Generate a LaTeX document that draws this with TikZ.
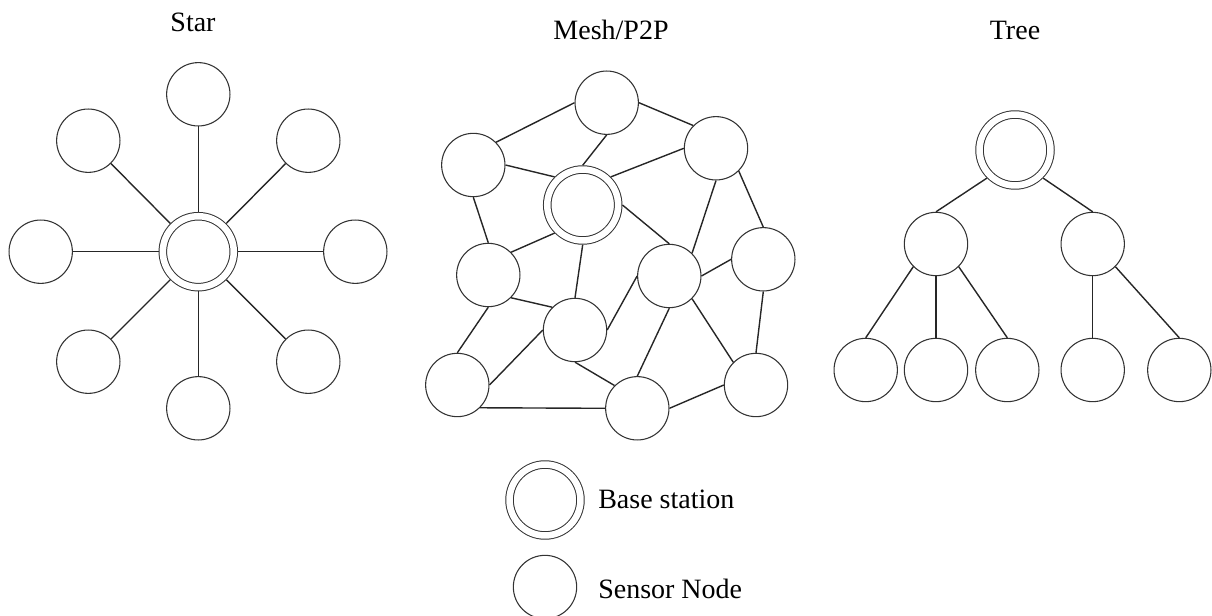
\documentclass[tikz,border=0pt]{standalone}
\usepackage{fontspec}
\setmainfont{Liberation Serif}
\begin{document}
\begin{tikzpicture}[x=0.75pt,y=-0.75pt,
  sensor/.style={circle,draw=black!80,line width=0.8pt,minimum size=47.5pt,inner sep=0pt,fill=white},
  base/.style={circle,draw=black!80,line width=0.75pt,double=white,double distance=4.9pt,minimum size=53.2pt,inner sep=0pt,outer sep=3.2pt},
  link/.style={draw=black!85,line width=1.05pt},
  lbl/.style={inner sep=0pt,font=\fontsize{21}{25}\selectfont}]
\useasboundingbox (0,0) rectangle (1212,616);
% titles
\node[lbl,anchor=base] (tstar) at (193,32) {Star};
\node[lbl,anchor=base] (tmesh) at (611,40) {Mesh/P2P};
\node[lbl,anchor=base] (ttree) at (1015,40) {Tree};
% star
\node[base] (sc) at (198.3,251.7) {};
\node[sensor] (s1) at (198.3,94.3) {};
\node[sensor] (s2) at (88.3,140.7) {};
\node[sensor] (s3) at (308.3,140.7) {};
\node[sensor] (s4) at (40.7,251.7) {};
\node[sensor] (s5) at (355.3,251.7) {};
\node[sensor] (s6) at (88.3,361.7) {};
\node[sensor] (s7) at (308.3,361.7) {};
\node[sensor] (s8) at (198.3,408.3) {};
\foreach \n in {s1,s2,s3,s4,s5,s6,s7,s8} \draw[link] (sc) -- (\n);
% mesh
\node[base] (mb) at (582.7,205) {};
\node[sensor] (mt) at (606.7,102.7) {};
\node[sensor] (mtl) at (473.3,165) {};
\node[sensor] (mtr) at (716,148.3) {};
\node[sensor] (ml) at (488.3,275) {};
\node[sensor] (mcr) at (669.3,276) {};
\node[sensor] (mr) at (763.3,259.3) {};
\node[sensor] (mlc) at (575,330) {};
\node[sensor] (mbl) at (457.3,385) {};
\node[sensor] (mbc) at (637.3,408.3) {};
\node[sensor] (mbr) at (756,385) {};
\draw[link] (mt.180) -- (mtl.45);
\draw[link] (mt.0) -- (mtr.135);
\draw[link] (mt.-90) -- (mb.90);
\draw[link] (mtl.0) -- (mb.135);
\draw[link] (mtl.-90) -- (ml.90);
\draw[link] (mb.45) -- (mtr.180);
\draw[link] (mb.0) -- (mcr.90);
\draw[link] (mb.225) -- (ml.45);
\draw[link] (mb.-90) -- (mlc.90);
\draw[link] (mtr.-90) -- (mcr.45);
\draw[link] (mtr.-45) -- (mr.90);
\draw[link] (ml.-45) -- (mlc.135);
\draw[link] (ml.-90) -- (mbl.90);
\draw[link] (mlc.180) -- (mbl.0);
\draw[link] (mlc.0) -- (mcr.180);
\draw[link] (mlc.-90) -- (mbc.135);
\draw[link] (mcr.0) -- (mr.180);
\draw[link] (mcr.-90) -- (mbc.90);
\draw[link] (mcr.-45) -- (mbr.135);
\draw[link] (mr.-90) -- (mbr.90);
\draw[link] (mbl.-45) -- (mbc.180);
\draw[link] (mbc.0) -- (mbr.180);
% tree
\node[base] (tr) at (1015,150) {};
\node[sensor] (ta) at (936,244) {};
\node[sensor] (tb) at (1092.7,244) {};
\node[sensor] (t1) at (865.7,370) {};
\node[sensor] (t2) at (936,370) {};
\node[sensor] (t3) at (1007.3,370) {};
\node[sensor] (t4) at (1092.7,370) {};
\node[sensor] (t5) at (1179.3,370) {};
\draw[link] (tr.225) -- (ta.90);
\draw[link] (tr.-45) -- (tb.90);
\draw[link] (ta.225) -- (t1.90);
\draw[link] (ta.-90) -- (t2.90);
\draw[link] (ta.-45) -- (t3.90);
\draw[link] (tb.-90) -- (t4.90);
\draw[link] (tb.-45) -- (t5.90);
% legend
\node[base] (lb) at (545,500) {};
\node[sensor] (ls) at (545,587) {};
\node[lbl,anchor=base west] (lbt) at (598,508) {Base station};
\node[lbl,anchor=base west] (lst) at (598,598) {Sensor Node};
\end{tikzpicture}
\end{document}
